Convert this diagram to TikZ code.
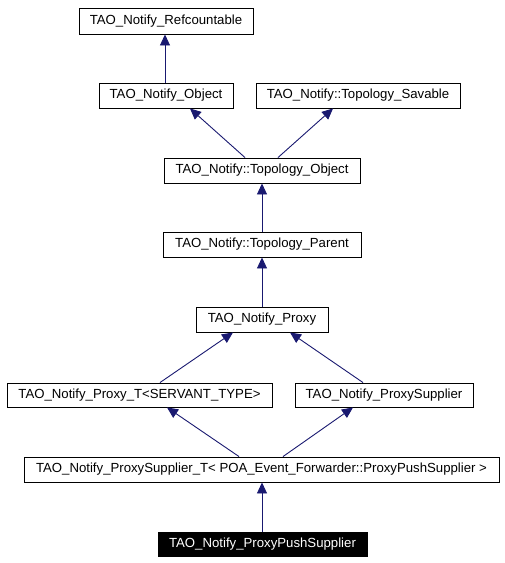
\documentclass[tikz,border=0pt]{standalone}
\usepackage{fontspec}
\setmainfont{Liberation Sans}
\usetikzlibrary{arrows.meta,calc}
\definecolor{edgeblue}{HTML}{191970}
\begin{document}
\begin{tikzpicture}[x=1pt,y=-1pt,
  box/.style={draw=black, line width=0.9pt, rectangle, inner sep=0pt, minimum height=25pt, font=\fontsize{13.2}{15}\selectfont},
  leaf/.style={box, fill=black, text=white},
  inh/.style={draw=edgeblue, line width=0.9pt, -{Triangle[length=11pt,width=10pt]}}]
\useasboundingbox (0,0) rectangle (505,563);
\node[box, minimum width=174pt, minimum height=26pt] (ref) at (166,21) {TAO\_Notify\_Refcountable};
\node[box, minimum width=134pt] (obj) at (166,95.5) {TAO\_Notify\_Object};
\node[box, minimum width=204pt] (sav) at (358,95.5) {TAO\_Notify::Topology\_Savable};
\node[box, minimum width=196pt] (tobj) at (262,170.5) {TAO\_Notify::Topology\_Object};
\node[box, minimum width=198pt] (tpar) at (262,244.5) {TAO\_Notify::Topology\_Parent};
\node[box, minimum width=132pt] (proxy) at (262,319.5) {TAO\_Notify\_Proxy};
\node[box, minimum width=265pt, minimum height=24pt] (proxyT) at (139.5,395) {TAO\_Notify\_Proxy\_T<SERVANT\_TYPE>};
\node[box, minimum width=178pt, minimum height=24pt] (psup) at (384,395) {TAO\_Notify\_ProxySupplier};
\node[box, minimum width=475pt] (psupT) at (261.5,469.5) {TAO\_Notify\_ProxySupplier\_T< POA\_Event\_Forwarder::ProxyPushSupplier >};
\node[leaf, minimum width=209pt, minimum height=24pt] (push) at (262.5,544) {TAO\_Notify\_ProxyPushSupplier};
\draw[inh] ([xshift=-1pt]obj.north) -- ([xshift=-1pt]ref.south);
\draw[inh] ([xshift=-17pt]tobj.north) -- ([xshift=24pt]obj.south);
\draw[inh] ([xshift=16pt]tobj.north) -- ([xshift=-25pt]sav.south);
\draw[inh] (tpar.north) -- (tobj.south);
\draw[inh] (proxy.north) -- (tpar.south);
\draw[inh] ([xshift=20.5pt]proxyT.north) -- ([xshift=-29pt]proxy.south);
\draw[inh] ([xshift=-21pt]psup.north) -- ([xshift=28pt]proxy.south);
\draw[inh] ([xshift=-22.5pt]psupT.north) -- ([xshift=27.5pt]proxyT.south);
\draw[inh] ([xshift=21.5pt]psupT.north) -- ([xshift=-31pt]psup.south);
\draw[inh] ([xshift=-0.5pt]push.north) -- ([xshift=0.5pt]psupT.south);
\end{tikzpicture}
\end{document}
